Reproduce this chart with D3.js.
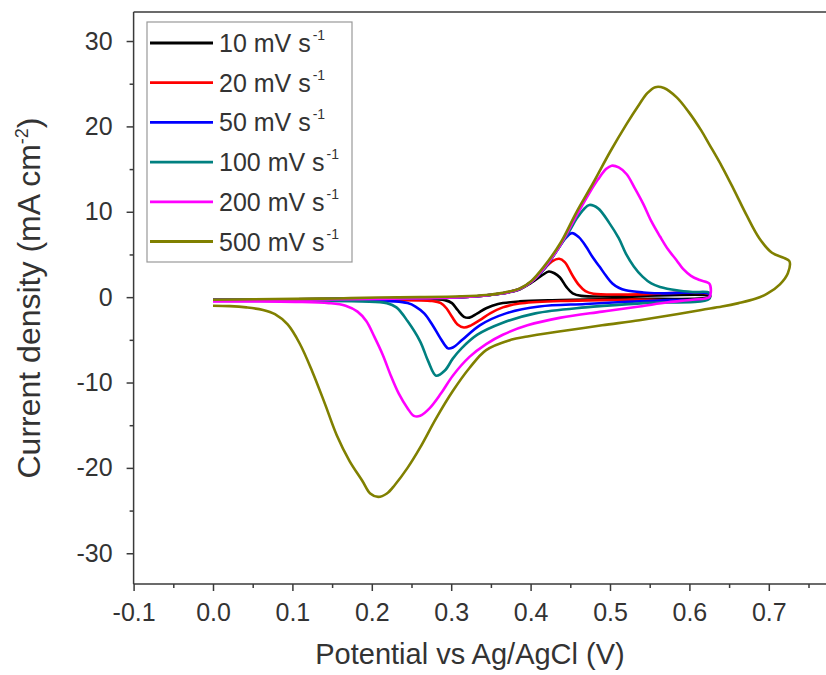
<!DOCTYPE html>
<html>
<head>
<meta charset="utf-8">
<script src="https://cdn.jsdelivr.net/npm/d3@7/dist/d3.min.js"></script>
<style>
  html, body { margin: 0; padding: 0; background: #fff; }
  svg { display: block; font-family: "Liberation Sans", Arial, sans-serif; }
</style>
</head>
<body>
<svg id="chart" width="826" height="675"></svg>
<script>
// Cyclic voltammograms at several scan rates: [potential (V), current density (mA cm^-2)]
const scanRates = ["10", "20", "50", "100", "200", "500"];
const colors = ["#000000", "#ff0000", "#0000ff", "#008080", "#ff00ff", "#808000"];

const cv10 = [
  [0,-0.3],[0.104,-0.25],[0.208,-0.15],[0.313,0.0],[0.344,0.2],[0.365,0.45],[0.386,0.9],[0.401,1.7],
  [0.415,2.6],[0.423,3.0],[0.430,2.8],[0.437,2.3],[0.445,1.2],[0.453,0.45],[0.464,0.15],[0.521,0.1],[0.625,0.15],
  [0.625,0.0],[0.521,-0.2],[0.438,-0.35],[0.386,-0.5],[0.359,-0.8],[0.344,-1.3],[0.333,-1.9],[0.323,-2.4],
  [0.316,-2.3],[0.308,-1.5],[0.301,-0.7],[0.292,-0.35],[0.261,-0.25],[0.208,-0.25],[0.104,-0.3],[0,-0.35]
];
const cv20 = [
  [0,-0.3],[0.104,-0.25],[0.208,-0.15],[0.313,0.0],[0.344,0.2],[0.365,0.45],[0.386,0.95],[0.401,1.8],
  [0.417,3.3],[0.427,4.2],[0.436,4.5],[0.443,4.1],[0.453,2.5],[0.461,1.4],[0.469,0.7],[0.479,0.4],[0.521,0.3],[0.625,0.3],
  [0.625,-0.1],[0.521,-0.3],[0.438,-0.45],[0.386,-0.75],[0.365,-1.2],[0.349,-1.9],[0.336,-2.7],[0.325,-3.3],
  [0.316,-3.55],[0.308,-3.2],[0.301,-2.3],[0.294,-1.3],[0.287,-0.7],[0.276,-0.45],[0.208,-0.35],[0.104,-0.35],[0,-0.4]
];
const cv50 = [
  [0,-0.3],[0.104,-0.25],[0.208,-0.15],[0.313,0.0],[0.344,0.2],[0.365,0.45],[0.386,0.95],[0.401,1.8],
  [0.417,3.3],[0.432,5.3],[0.443,6.8],[0.452,7.5],[0.461,7.0],[0.470,5.9],[0.478,4.7],[0.487,3.55],
  [0.495,2.5],[0.503,1.6],[0.511,1.1],[0.520,0.8],[0.542,0.55],[0.563,0.45],[0.625,0.35],
  [0.625,-0.1],[0.573,-0.35],[0.521,-0.55],[0.469,-0.8],[0.411,-1.1],[0.369,-1.9],[0.336,-3.3],[0.314,-5.0],
  [0.302,-5.9],[0.296,-6.0],[0.287,-4.9],[0.276,-3.2],[0.266,-1.9],[0.255,-1.1],[0.245,-0.7],[0.229,-0.5],
  [0.156,-0.4],[0.052,-0.4],[0,-0.4]
];
const cv100 = [
  [0,-0.3],[0.104,-0.25],[0.208,-0.15],[0.313,0.0],[0.344,0.2],[0.365,0.45],[0.386,0.95],[0.401,1.8],
  [0.417,3.3],[0.432,5.3],[0.448,7.6],[0.458,9.2],[0.467,10.3],[0.474,10.8],[0.485,10.4],[0.499,8.7],
  [0.511,6.9],[0.520,5.1],[0.530,3.6],[0.541,2.4],[0.552,1.6],[0.563,1.2],[0.584,0.8],[0.604,0.6],[0.625,0.5],
  [0.625,-0.2],[0.542,-0.7],[0.469,-1.2],[0.406,-1.9],[0.365,-3.0],[0.333,-4.4],[0.313,-6.0],[0.302,-7.2],
  [0.292,-8.6],[0.281,-9.2],[0.271,-7.5],[0.261,-5.2],[0.245,-2.8],[0.231,-1.2],[0.219,-0.7],[0.188,-0.5],
  [0.104,-0.45],[0,-0.45]
];
const cv200 = [
  [0,-0.35],[0.104,-0.3],[0.208,-0.2],[0.313,0.0],[0.344,0.2],[0.365,0.45],[0.386,0.95],[0.401,1.8],
  [0.417,3.4],[0.438,6.2],[0.458,9.6],[0.474,12.2],[0.485,13.8],[0.495,15.0],[0.502,15.4],[0.511,15.2],
  [0.521,14.4],[0.531,12.8],[0.542,10.9],[0.552,8.9],[0.563,7.1],[0.573,5.6],[0.584,4.3],[0.592,3.3],
  [0.602,2.5],[0.613,2.0],[0.625,1.6],
  [0.627,0.6],[0.625,0.0],[0.604,-0.3],[0.573,-0.6],[0.537,-1.1],[0.490,-1.7],[0.438,-2.4],[0.396,-3.3],
  [0.365,-4.4],[0.344,-5.5],[0.323,-7.0],[0.302,-9.2],[0.287,-11.3],[0.273,-13.0],[0.261,-13.9],[0.253,-13.9],
  [0.245,-13.0],[0.234,-11.3],[0.224,-9.2],[0.214,-6.8],[0.203,-4.6],[0.193,-2.8],[0.182,-1.7],
  [0.167,-1.0],[0.146,-0.7],[0.104,-0.55],[0.052,-0.5],[0,-0.5]
];
const cv500 = [
  [0,-0.3],[0.052,-0.25],[0.104,-0.2],[0.156,-0.15],[0.208,-0.05],[0.261,0.0],[0.313,0.1],[0.344,0.25],
  [0.365,0.5],[0.386,1.0],[0.401,1.9],[0.417,3.6],[0.438,6.4],[0.458,10.0],[0.479,13.4],[0.500,17.0],
  [0.521,20.3],[0.537,22.6],[0.547,23.9],[0.557,24.6],[0.568,24.5],[0.584,23.4],[0.599,21.7],
  [0.615,19.5],[0.625,17.9],[0.641,15.3],[0.656,12.6],[0.672,9.6],[0.688,6.9],[0.704,5.2],[0.719,4.6],[0.726,4.2],
  [0.724,2.8],[0.714,1.5],[0.698,0.4],[0.683,-0.2],[0.662,-0.7],[0.641,-1.1],[0.615,-1.5],[0.578,-2.1],
  [0.537,-2.7],[0.490,-3.3],[0.438,-4.0],[0.396,-4.6],[0.375,-5.0],[0.344,-6.2],[0.323,-8.3],[0.302,-11.0],
  [0.281,-14.2],[0.261,-17.6],[0.245,-20.0],[0.229,-22.0],[0.219,-23.0],[0.208,-23.4],[0.198,-23.0],
  [0.188,-21.5],[0.172,-19.2],[0.156,-16.2],[0.141,-12.5],[0.125,-8.7],[0.109,-5.4],[0.094,-3.2],
  [0.078,-2.0],[0.063,-1.5],[0.042,-1.2],[0.021,-1.05],[0,-1.0]
];
const seriesData = [cv10, cv20, cv50, cv100, cv200, cv500];

const xTicks = [-0.1, 0.0, 0.1, 0.2, 0.3, 0.4, 0.5, 0.6, 0.7];
const yTicks = [-30, -20, -10, 0, 10, 20, 30];

const svg = d3.select("#chart");
const plotLeft = 133.6, plotTop = 12, plotBottom = 584;
const unitPx = 79.4; // pixels per 0.1 V

const x = d3.scaleLinear().domain([-0.1, 0.8]).range([plotLeft, plotLeft + 9 * unitPx]);
const y = d3.scaleLinear().domain([-33.6, 33.4]).range([plotBottom, plotTop]);

const axisColor = "#3a3a3a";
const tickFont = 25;

// frame: top edge (right edge falls outside the canvas)
svg.append("line")
  .attr("x1", plotLeft).attr("x2", 826).attr("y1", plotTop).attr("y2", plotTop)
  .attr("stroke", axisColor).attr("stroke-width", 1.5);

// x axis
const xMinor = d3.range(-0.05, 0.8, 0.1);
const gx = svg.append("g").attr("transform", `translate(0,${plotBottom})`);
gx.call(d3.axisBottom(x).tickValues(xMinor).tickSize(4).tickFormat(""));
gx.call(g => g.select(".domain").remove());
const gx2 = svg.append("g").attr("transform", `translate(0,${plotBottom})`)
  .call(d3.axisBottom(x).tickValues(xTicks).tickSize(7).tickPadding(12));
gx2.select(".domain").attr("d", `M${plotLeft},0H826`);
[gx, gx2].forEach(g => {
  g.selectAll("line").attr("stroke", axisColor).attr("stroke-width", 1.5);
  g.selectAll("path").attr("stroke", axisColor).attr("stroke-width", 1.5);
});
gx2.selectAll("text").attr("font-size", tickFont).attr("fill", "#333")
  .attr("font-family", "Liberation Sans, Arial, sans-serif")
  .text(d => d3.format(".1f")(d).replace("−", "-"));

// y axis
const yMinor = [-25, -15, -5, 5, 15, 25];
const gy = svg.append("g").attr("transform", `translate(${plotLeft},0)`);
gy.call(d3.axisLeft(y).tickValues(yMinor).tickSize(4).tickFormat(""));
gy.call(g => g.select(".domain").remove());
const gy2 = svg.append("g").attr("transform", `translate(${plotLeft},0)`)
  .call(d3.axisLeft(y).tickValues(yTicks).tickSize(7).tickPadding(14));
gy2.select(".domain").attr("d", `M0,${plotTop}V${plotBottom}`);
[gy, gy2].forEach(g => {
  g.selectAll("line").attr("stroke", axisColor).attr("stroke-width", 1.5);
  g.selectAll("path").attr("stroke", axisColor).attr("stroke-width", 1.5);
});
gy2.selectAll("text").attr("font-size", tickFont).attr("fill", "#333")
  .attr("font-family", "Liberation Sans, Arial, sans-serif")
  .text(d => String(d));

// axis titles
svg.append("text")
  .attr("x", 470).attr("y", 664)
  .attr("text-anchor", "middle").attr("font-size", 29).attr("fill", "#333")
  .text("Potential vs Ag/AgCl (V)");

const yTitle = svg.append("text")
  .attr("transform", `translate(40,${(plotTop + plotBottom) / 2}) rotate(-90)`)
  .attr("text-anchor", "middle").attr("font-size", 32).attr("fill", "#333");
yTitle.append("tspan").text("Current density (mA cm");
yTitle.append("tspan").attr("font-size", 18).attr("baseline-shift", "12").text("-2");
yTitle.append("tspan").text(")");

// curves
const line = d3.line()
  .x(d => x(d[0])).y(d => y(d[1]))
  .curve(d3.curveCatmullRom.alpha(0.5));

svg.append("defs").append("clipPath").attr("id", "plotClip")
  .append("rect").attr("x", plotLeft).attr("y", plotTop)
  .attr("width", 826 - plotLeft).attr("height", plotBottom - plotTop);

svg.append("g").attr("clip-path", "url(#plotClip)")
  .selectAll("path")
  .data(seriesData)
  .join("path")
  .attr("d", d => line(d))
  .attr("fill", "none")
  .attr("stroke", (d, i) => colors[i])
  .attr("stroke-width", 2.6)
  .attr("stroke-linejoin", "round");

// legend
const lg = svg.append("g");
lg.append("rect")
  .attr("x", 147).attr("y", 22).attr("width", 205).attr("height", 240)
  .attr("fill", "#fff").attr("stroke", "#999").attr("stroke-width", 1.2);

const rowY = i => 43 + i * 39.7;
scanRates.forEach((r, i) => {
  lg.append("line")
    .attr("x1", 150).attr("x2", 213).attr("y1", rowY(i)).attr("y2", rowY(i))
    .attr("stroke", colors[i]).attr("stroke-width", 2.8);
  const t = lg.append("text")
    .attr("x", 219).attr("y", rowY(i) + 9)
    .attr("font-size", 25).attr("fill", "#333");
  t.append("tspan").text(`${r} mV s`);
  t.append("tspan").attr("font-size", 14).attr("dy", -12).attr("dx", 2).text("-1");
});
</script>
</body>
</html>
